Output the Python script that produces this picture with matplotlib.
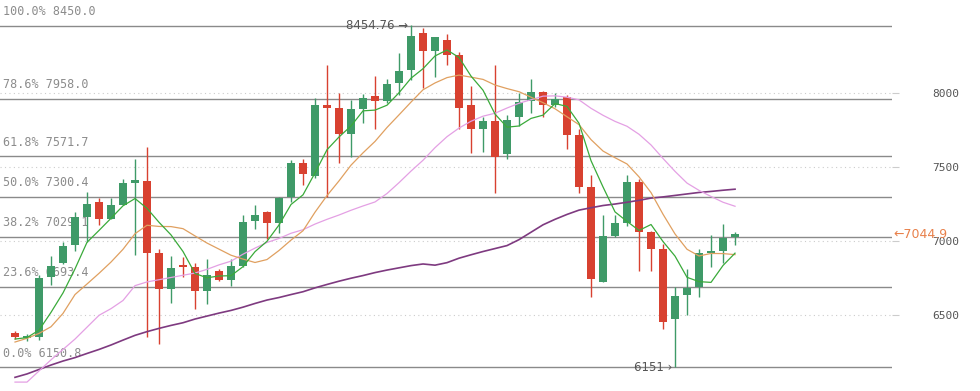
import matplotlib
matplotlib.use("Agg")
import matplotlib.pyplot as plt

# daily candles (open, high, low, close)
opens = [6383, 6350, 6356, 6756, 6850, 6972, 7164, 7263, 7151, 7245,
         7395, 7403, 6918, 6679, 6832, 6823, 6666, 6796, 6738, 6832,
         7137, 7196, 7120, 7299, 7524, 7439, 7915, 7897, 7722, 7892,
         7978, 7942, 8067, 8153, 8400, 8283, 8355, 8256, 7915, 7753,
         7807, 7587, 7838, 7942, 8005, 7919, 7969, 7713, 7362, 6724,
         7034, 7120, 7398, 7061, 6945, 6477, 6635, 6689, 6920, 6931,
         7030]
highs = [6394, 6376, 6769, 6900, 6994, 7196, 7331, 7290, 7290, 7420,
         7551, 7636, 6949, 6900, 6895, 6854, 6877, 6810, 6881, 7174,
         7241, 7201, 7295, 7546, 7551, 7964, 8189, 8000, 7951, 7991,
         8113, 8094, 8265, 8454.76, 8436, 8373, 8396, 8274, 8045, 7838,
         8185, 7848, 8000, 8090, 8013, 8000, 7982, 7753, 7443, 7178,
         7178, 7443, 7420, 7070, 6980, 6693, 6814, 6945, 7043, 7115,
         7061]
lows = [6340, 6327, 6333, 6702, 6845, 6935, 6994, 7110, 7150, 7241,
        6904, 6352, 6306, 6585, 6760, 6544, 6576, 6733, 6697, 6828,
        7083, 7016, 7052, 7263, 7380, 7425, 7299, 7528, 7565, 7798,
        7753, 7929, 7982, 8086, 8032, 8104, 8189, 7753, 7596, 7600,
        7322, 7551, 7776, 7865, 7838, 7906, 7623, 7322, 6625, 6724,
        7030, 7102, 6800, 6800, 6406, 6151, 6504, 6625, 6823, 6850,
        6972]
closes = [6352, 6355, 6751, 6832, 6967, 7160, 7250, 7151, 7241, 7389,
          7402, 6922, 6679, 6819, 6826, 6666, 6774, 6738, 6832, 7129,
          7174, 7120, 7290, 7524, 7452, 7915, 7897, 7722, 7892, 7964,
          7942, 8059, 8144, 8382, 8283, 8373, 8256, 7897, 7753, 7807,
          7569, 7816, 7937, 8005, 7919, 7960, 7717, 7367, 6747, 7034,
          7120, 7398, 7061, 6949, 6455, 6630, 6684, 6918, 6925, 7021,
          7044.9]

# moving average lines
ma5 = [6340, 6350, 6400, 6520, 6651, 6813, 6992, 7072, 7154, 7238,
       7287, 7221, 7127, 7042, 6930, 6782, 6753, 6765, 6767, 6828,
       6929, 6999, 7109, 7247, 7312, 7460, 7616, 7702, 7776, 7878,
       7883, 7916, 8000, 8098, 8162, 8248, 8288, 8238, 8112, 8017,
       7856, 7768, 7776, 7827, 7849, 7927, 7908, 7794, 7542, 7365,
       7197, 7133, 7072, 7112, 6997, 6899, 6756, 6727, 6722, 6836,
       6919]
ma10 = [6320, 6345, 6378, 6423, 6513, 6640, 6711, 6783, 6859, 6945,
        7050, 7107, 7099, 7098, 7084, 7035, 6987, 6946, 6905, 6879,
        6856, 6876, 6937, 7007, 7070, 7195, 7307, 7406, 7512, 7595,
        7672, 7766, 7851, 7937, 8020, 8066, 8102, 8119, 8105, 8090,
        8052, 8028, 8007, 7970, 7933, 7892, 7838, 7785, 7684, 7607,
        7562, 7520, 7433, 7327, 7181, 7048, 6945, 6900, 6917, 6916,
        6909]
ma20 = [6050, 6050, 6125, 6200, 6270, 6340, 6420, 6500, 6545, 6600,
        6700, 6725, 6740, 6755, 6770, 6785, 6810, 6840, 6865, 6912,
        6953, 6991, 7018, 7053, 7077, 7115, 7147, 7176, 7208, 7237,
        7264, 7321, 7394, 7472, 7545, 7630, 7704, 7762, 7808, 7842,
        7862, 7897, 7929, 7953, 7977, 7979, 7970, 7952, 7895, 7848,
        7807, 7774, 7720, 7648, 7557, 7470, 7391, 7342, 7301, 7262,
        7235]
ma60 = [6082, 6105, 6135, 6165, 6192, 6215, 6243, 6270, 6300, 6333,
        6365, 6390, 6412, 6432, 6450, 6475, 6495, 6515, 6533, 6555,
        6580, 6603, 6620, 6640, 6659, 6685, 6708, 6730, 6750, 6768,
        6788, 6805, 6820, 6835, 6846, 6838, 6855, 6885, 6908, 6930,
        6950, 6970, 7010, 7060, 7110, 7147, 7180, 7209, 7225, 7240,
        7250, 7262, 7275, 7290, 7298, 7308, 7318, 7328, 7335, 7343,
        7350]

fib_pcts = ["100.0%", "78.6%", "61.8%", "50.0%", "38.2%", "23.6%", "0.0%"]
fib_levels = [8450.0, 7958.0, 7571.7, 7300.4, 7029.1, 6693.4, 6150.8]
y_ticks = [6500, 7000, 7500, 8000]

UP = "#3f9a68"
DOWN = "#d84130"
MONO = "DejaVu Sans Mono"

fig = plt.figure(figsize=(9.8, 3.91), dpi=100)
ax = fig.add_axes([0, 0, 892 / 980, 1])
ax.set_xlim(-1.25, 73.08)
ax.set_ylim(5990, 8625)
for s in ax.spines.values():
    s.set_visible(False)

# dotted price grid
for t in y_ticks:
    ax.axhline(t, color="#cccccc", lw=0.8, ls=(0, (1, 3)), zorder=1)

# fibonacci levels
for pct, lvl in zip(fib_pcts, fib_levels):
    ax.axhline(lvl, color="#8a8a8a", lw=1.0, zorder=2)
    ax.annotate(f"{pct} {lvl:.1f}", xy=(0, lvl), xycoords=("axes fraction", "data"),
                xytext=(3, 14), textcoords="offset pixels", ha="left", va="center",
                family=MONO, fontsize=8.5, color="#8c8c8c", zorder=3)

# candles
n = len(closes)
xs = list(range(n))
for i in xs:
    o, h, l, c = opens[i], highs[i], lows[i], closes[i]
    col = UP if c >= o else DOWN
    ax.vlines(i, l, h, color=col, lw=1.0, zorder=4)
    bottom = min(o, c)
    height = max(abs(c - o), 14)
    ax.bar(i, height, bottom=bottom, width=0.72, color=col, edgecolor=col, lw=0, zorder=5)

# moving averages
ax.plot(xs, ma60, color="#7e3a80", lw=1.2, zorder=6)
ax.plot(xs, ma20, color="#e4a0e4", lw=0.9, zorder=6)
ax.plot(xs, ma10, color="#e0a060", lw=0.9, zorder=6)
ax.plot(xs, ma5, color="#3aaa3a", lw=0.9, zorder=6)

# high / low markers
hi = highs.index(max(highs))
lo = lows.index(min(lows))
ax.annotate(f"{max(highs):.2f} \u2192", xy=(hi, max(highs)), xytext=(-3, 0),
            textcoords="offset pixels", ha="right", va="center",
            fontsize=8.5, color="#555555", zorder=7)
ax.annotate(f"{min(lows):.0f} \u203a", xy=(lo, min(lows)), xytext=(-3, 0),
            textcoords="offset pixels", ha="right", va="center",
            fontsize=8.5, color="#555555", zorder=7)

# right axis
ax.yaxis.tick_right()
ax.set_yticks(y_ticks)
ax.set_yticklabels([str(t) for t in y_ticks], family=MONO, fontsize=8, color="#555555")
ax.tick_params(axis="y", length=5, width=0.8, color="#cccccc", pad=24)
ax.set_xticks([])

# last price tag
ax.annotate(f"\u2190{closes[-1]:.1f}", xy=(1, closes[-1]), xycoords=("axes fraction", "data"),
            xytext=(1, 0), textcoords="offset pixels", ha="left", va="center",
            fontsize=9, color="#e8804a", zorder=8, annotation_clip=False)

fig.savefig("out.png", dpi=100)
